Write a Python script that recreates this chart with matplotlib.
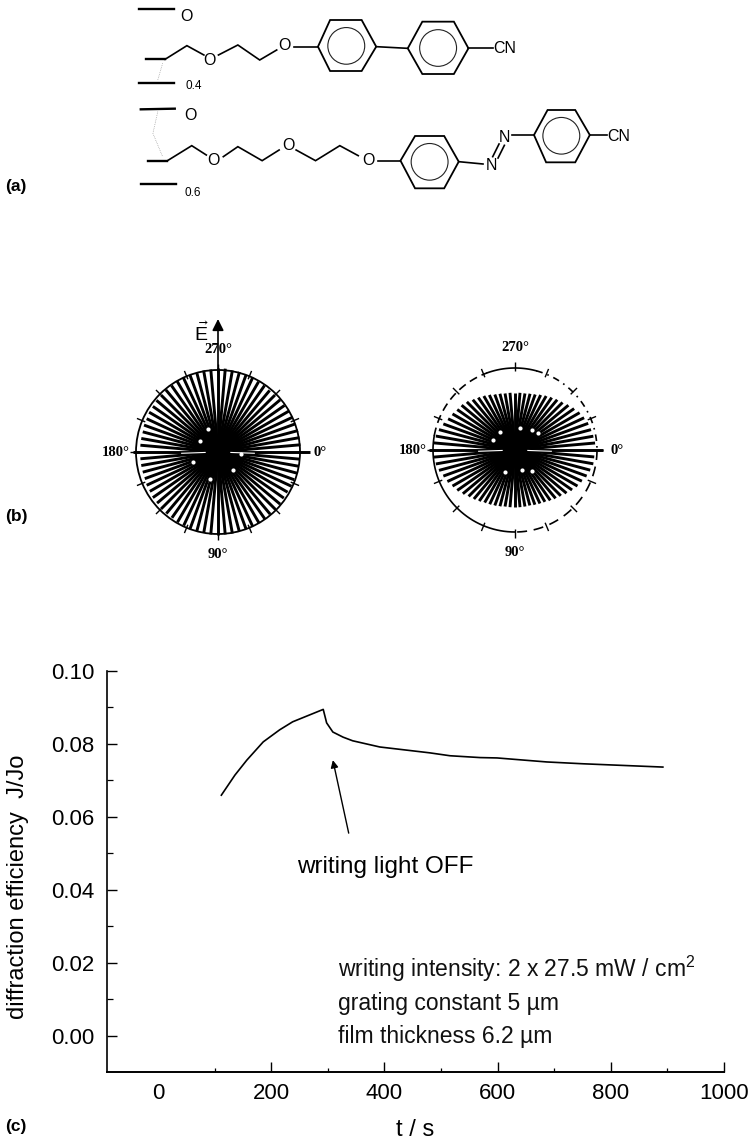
import numpy as np
import matplotlib
matplotlib.use('Agg')
import matplotlib.pyplot as plt
from matplotlib.patches import Ellipse, FancyArrowPatch
from matplotlib.ticker import MultipleLocator, FormatStrFormatter

plt.rcParams['font.family'] = ['Liberation Sans', 'DejaVu Sans']
plt.rcParams['mathtext.default'] = 'regular'

W, H = 755, 1140

# panel c data
time_s = [112, 136, 157, 186, 215, 238, 265, 292, 298, 309, 327, 344, 392, 480, 516, 569, 599, 687, 751, 892]
efficiency = [0.0659, 0.0714, 0.0755, 0.0805, 0.0838, 0.0860, 0.0877, 0.0894, 0.0857, 0.0832, 0.0818, 0.0808,
              0.0791, 0.0775, 0.0767, 0.0762, 0.0761, 0.0750, 0.0745, 0.0736]

# panel b data, one spoke every 5 degrees starting at 0, radius 1 = outer circle
spoke_angles = list(range(0, 360, 5))
spokes_left = [1.12, 1.00, 1.00, 1.00, 0.99, 0.99, 0.98, 0.98, 0.99, 0.99, 0.99, 1.00, 1.00, 1.00, 1.00, 1.00, 1.01, 1.01,
               1.01, 1.01, 1.00, 1.00, 1.00, 0.99, 0.99, 0.98, 0.98, 0.98, 0.97, 0.97, 0.96, 0.96, 0.95, 0.95, 0.95, 0.95,
               1.04, 0.95, 0.95, 0.95, 0.96, 0.96, 0.97, 0.97, 0.98, 0.98, 0.99, 0.99, 1.00, 1.00, 1.00, 1.00, 1.01, 1.01,
               1.02, 1.02, 1.01, 1.01, 1.00, 1.00, 0.99, 0.99, 0.98, 0.98, 0.99, 0.99, 1.00, 1.00, 1.00, 1.01, 1.01, 1.01]
spokes_right = [1.07, 0.97, 0.97, 0.95, 0.93, 0.90, 0.88, 0.85, 0.82, 0.79, 0.77, 0.75, 0.73, 0.72, 0.71, 0.70, 0.70, 0.70,
                0.70, 0.70, 0.70, 0.71, 0.72, 0.73, 0.74, 0.76, 0.78, 0.80, 0.83, 0.86, 0.88, 0.91, 0.93, 0.96, 0.98, 1.00,
                1.05, 1.00, 0.98, 0.96, 0.93, 0.90, 0.88, 0.86, 0.85, 0.83, 0.80, 0.78, 0.76, 0.74, 0.72, 0.71, 0.70, 0.70,
                0.70, 0.70, 0.70, 0.71, 0.72, 0.74, 0.76, 0.78, 0.80, 0.82, 0.85, 0.88, 0.91, 0.93, 0.95, 0.96, 0.97, 0.98]
specks_left_deg = [247, 212, 51, 107, 158, 4]
specks_left_r = [0.31, 0.26, 0.29, 0.34, 0.33, 0.28]
specks_right_deg = [231, 205, 310, 283, 324, 115, 72, 52]
specks_right_r = [0.29, 0.29, 0.32, 0.27, 0.35, 0.29, 0.26, 0.33]
frame_ticks = [0, 22.5, 45, 67.5, 90, 112.5, 135, 157.5, 180, 202.5, 225, 247.5, 270, 292.5, 315, 337.5]
frame_labels = ['0°', '', '', '', '90°', '', '', '', '180°', '', '', '', '270°', '', '', '']

# panel a structure, x in 1/2.06 px and y in 1/3 px
chains = [
    [(340, 178), (385, 137), (420, 165)],
    [(450, 165), (490, 135), (535, 180), (570, 150)],
    [(605, 140), (655, 140)],
    [(775, 140), (840, 145)],
    [(965, 145), (1015, 145)],
    [(345, 482), (395, 437), (425, 465)],
    [(460, 470), (490, 440), (540, 482), (575, 450)],
    [(610, 450), (650, 482), (700, 437), (738, 467)],
    [(778, 482), (825, 482)],
    [(945, 485), (995, 492)],
    [(1055, 405), (1100, 405)],
    [(1215, 405), (1250, 405)],
]
backbones = [
    [(287, 28), (358, 28)],
    [(300, 178), (340, 178)],
    [(287, 250), (358, 250)],
    [(290, 328), (360, 326)],
    [(305, 482), (345, 482)],
    [(290, 553), (362, 553)],
]
faint_links = [
    [(335, 190), (325, 240)],
    [(325, 335), (315, 400), (335, 470)],
]
rings = [
    [(655, 140), (680, 60), (745, 60), (775, 140), (745, 213), (680, 213)],
    [(840, 145), (870, 65), (935, 65), (965, 145), (935, 222), (870, 222)],
    [(825, 482), (855, 408), (915, 408), (945, 485), (915, 565), (855, 565)],
    [(1100, 405), (1128, 330), (1185, 330), (1215, 405), (1185, 487), (1125, 487)],
]
azo_bonds = [
    [(1015, 470), (1028, 432)],
    [(1026, 474), (1039, 436)],
]
atoms = [
    ('O', 385, 50), ('O', 432, 182), ('O', 585, 137), ('CN', 1040, 145),
    ('O', 392, 347), ('O', 440, 482), ('O', 595, 437), ('O', 760, 482),
    ('N', 1012, 495), ('N', 1040, 413), ('CN', 1275, 410),
]
fractions = [('0.4', 400, 258), ('0.6', 398, 578)]


def rect(x0, y0, x1, y1):
    # pixel box (y down) to figure fractions
    return [x0 / W, 1 - y1 / H, (x1 - x0) / W, (y1 - y0) / H]


fig = plt.figure(figsize=(W / 100, H / 100), dpi=100)

# (a) structure
sk = fig.add_axes([0, 1 - 210 / H, 1, 210 / H])
sk.set_xlim(0, W * 2.06)
sk.set_ylim(630, 0)
sk.axis('off')
for c in chains + azo_bonds:
    sk.plot(*zip(*c), color='black', lw=1.2, solid_joinstyle='miter')
for c in backbones:
    sk.plot(*zip(*c), color='black', lw=1.7)
for c in faint_links:
    sk.plot(*zip(*c), color='#888888', lw=0.5, ls=':')
for r in rings:
    sk.fill(*zip(*r), fill=False, edgecolor='black', lw=1.3)
    cx = np.mean([p[0] for p in r])
    cy = np.mean([p[1] for p in r])
    sk.add_patch(Ellipse((cx, cy), 76, 110, fill=False, edgecolor='#222222', lw=0.8))
for name, x, y in atoms:
    sk.text(x, y, name, ha='center', va='center', fontsize=11.5, color='black')
for name, x, y in fractions:
    sk.text(x, y, name, ha='center', va='center', fontsize=8.5, color='black')


# (b) polar spokes
def rose(box, radii, speck_deg, speck_r):
    ax = fig.add_axes(rect(*box), projection='polar')
    ax.set_theta_zero_location('E')
    ax.set_theta_direction(-1)
    ax.set_rlim(0, 1)
    ax.set_yticks([])
    ax.grid(False)
    ax.vlines(np.deg2rad(spoke_angles), 0, radii, color='black', lw=2.1, clip_on=False, capstyle='butt')
    ax.vlines(np.deg2rad(frame_ticks), 0.96, 1.07, color='black', lw=1.0, clip_on=False)
    ax.vlines(np.deg2rad([2, 178]), 0.15, 0.45, color='white', lw=0.8)
    ax.scatter(np.deg2rad(speck_deg), speck_r, s=9, color='white', linewidths=0, zorder=3)
    ax.set_xticks(np.deg2rad(frame_ticks))
    ax.set_xticklabels(frame_labels, family='Liberation Serif', fontweight='bold', fontsize=10.5)
    ax.tick_params(axis='x', pad=4)
    ax.patch.set_alpha(0)
    return ax


left = rose((136, 370, 300, 534), spokes_left, specks_left_deg, specks_left_r)
left.spines['polar'].set_linewidth(1.3)

right = rose((433, 368, 597, 532), spokes_right, specks_right_deg, specks_right_r)
right.spines['polar'].set_visible(False)
for a, b, style in [(90, 190, '-'), (250, 285, '-'), (190, 250, (0, (5, 3))), (285, 360, (0, (4, 3, 1, 3))), (0, 90, (0, (6, 4)))]:
    right.plot(np.deg2rad(np.linspace(a, b, 40)), [1] * 40, color='black', lw=1.2, ls=style, clip_on=False)

# (c) diffraction efficiency curve
ax = fig.add_axes(rect(107, 670.7, 724, 1071.5))
ax.plot(time_s, efficiency, color='black', lw=1.2)
ax.set_xlim(-90, 1000)
ax.set_ylim(-0.0098, 0.10)
ax.spines['top'].set_visible(False)
ax.spines['right'].set_visible(False)
ax.spines['left'].set_linewidth(1.2)
ax.spines['bottom'].set_linewidth(1.4)
ax.xaxis.set_major_locator(MultipleLocator(200))
ax.xaxis.set_minor_locator(MultipleLocator(100))
ax.yaxis.set_major_locator(MultipleLocator(0.02))
ax.yaxis.set_minor_locator(MultipleLocator(0.01))
ax.yaxis.set_major_formatter(FormatStrFormatter('%.2f'))
ax.tick_params(which='major', direction='in', length=7, width=1.0, labelsize=16, pad=5)
ax.tick_params(which='minor', direction='in', length=4, width=0.9)
ax.tick_params(axis='x', which='minor', length=3)
ax.tick_params(axis='y', which='major', pad=9)
ax.tick_params(axis='x', which='major', pad=8)
fig.canvas.draw()
for tick in ax.xaxis.get_major_ticks():
    if tick.get_loc() == 0:
        tick.tick1line.set_visible(False)

ax.annotate('', xy=(309, 0.0755), xytext=(337, 0.0555),
            arrowprops=dict(arrowstyle='-|>', color='black', lw=1.0, mutation_scale=11, shrinkA=0, shrinkB=0))
ax.text(246, 0.0445, 'writing light OFF', fontsize=17.5, color='black')
ax.text(318, 0.0161, 'writing intensity: 2 x 27.5 mW / cm$^{2}$', fontsize=16.5, color='#111111')
ax.text(318, 0.0070, 'grating constant 5 µm', fontsize=16.5, color='#111111')
ax.text(318, -0.0020, 'film thickness 6.2 µm', fontsize=16.5, color='#111111')

fig.text(18 / W, 1 - 887 / H, 'diffraction efficiency  J/Jo', rotation=90, ha='center', va='center', fontsize=17)
fig.text(415 / W, 1 - 1130 / H, 't / s', ha='center', va='center', fontsize=17)

# panel letters and field arrow
fig.text(5 / W, 1 - 186 / H, '(a)', fontweight='bold', fontsize=12.5, ha='left', va='center')
fig.text(5 / W, 1 - 517 / H, '(b)', fontweight='bold', fontsize=12.5, ha='left', va='center')
fig.text(5 / W, 1 - 1126 / H, '(c)', fontweight='bold', fontsize=12.5, ha='left', va='center')

fig.text(201 / W, 1 - 333 / H, r'$\vec{E}$', math_fontfamily='dejavuserif', fontsize=14, ha='center', va='center')
fig.add_artist(FancyArrowPatch(
    (218 / W, 1 - 372 / H), (218 / W, 1 - 319 / H), transform=fig.transFigure,
    arrowstyle='-|>', mutation_scale=17, color='black', lw=1.2, shrinkA=0, shrinkB=0))

fig.savefig('out.png', dpi=100)
